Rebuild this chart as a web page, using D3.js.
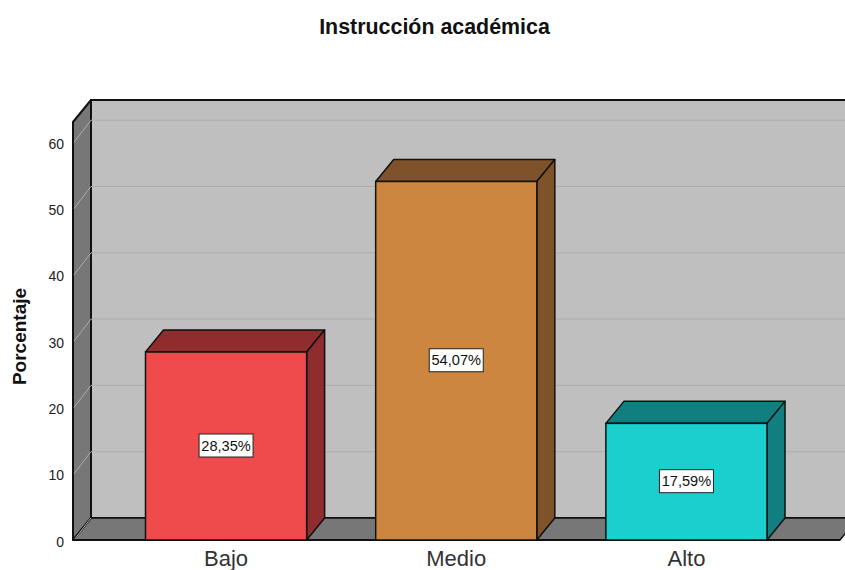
<!DOCTYPE html>
<html><head><meta charset="utf-8">
<script src="https://cdn.jsdelivr.net/npm/d3@7"></script>
<style>html,body{margin:0;padding:0;background:#fff;overflow:hidden}svg{display:block}text{font-family:"Liberation Sans",Arial,sans-serif}</style>
</head><body><svg id="c" width="845" height="570"></svg>
<script>
const categories = ["Bajo","Medio","Alto"];
const values = [28.35,54.07,17.59];
const labels = ["28,35%","54,07%","17,59%"];
const colors = ["#ef4b4d","#cc863f","#1bcfcf"];
const sideColors = ["#8f2d2e","#7f5329","#117f7f"];
const yTicks = [0,10,20,30,40,50,60];
const title = "Instrucción académica";
const yTitle = "Porcentaje";

const dx = 18, dy = -22, stroke = "#111";
const svg = d3.select("#c");
const y = d3.scaleLinear().domain([0,63.04]).range([540,122]);
const x = d3.scaleBand().domain(categories).range([145.5,767]).paddingInner(0.3).paddingOuter(0);
const left = 73, right = 840;
const y0 = y(0), yTop = y.range()[1];
const poly = (pts,fill,sw=1.5)=>svg.append("polygon").attr("points",pts.map(p=>p.join(",")).join(" ")).attr("fill",fill).attr("stroke",stroke).attr("stroke-width",sw).attr("stroke-linejoin","round");

// back wall
svg.append("rect").attr("x",left+dx).attr("y",yTop+dy).attr("width",right-left).attr("height",y0-yTop)
  .attr("fill","#bfbfbf").attr("stroke",stroke).attr("stroke-width",2);
// floor and side wall
poly([[left,y0],[left+dx,y0+dy],[right+dx,y0+dy],[right,y0]],"#777777",1.5);
poly([[left,y0],[left,yTop],[left+dx,yTop+dy],[left+dx,y0+dy]],"#777777",2);
// gridlines
const grid = svg.append("g").attr("fill","none").attr("stroke","#adadad").attr("stroke-width",1);
yTicks.forEach(t=>{
  const p = d3.path();
  p.moveTo(left+1,y(t)); p.lineTo(left+dx,y(t)+dy);
  if(t>0) p.lineTo(right+dx,y(t)+dy);
  grid.append("path").attr("d",p.toString());
});
svg.append("line").attr("x1",left).attr("x2",right).attr("y1",y0).attr("y2",y0).attr("stroke",stroke).attr("stroke-width",2);

// bars
categories.forEach((c,i)=>{
  const bx = x(c), bw = x.bandwidth(), by = y(values[i]);
  poly([[bx,by],[bx+dx,by+dy],[bx+bw+dx,by+dy],[bx+bw,by]],sideColors[i]);
  poly([[bx+bw,by],[bx+bw+dx,by+dy],[bx+bw+dx,y0+dy],[bx+bw,y0]],sideColors[i]);
  svg.append("rect").attr("x",bx).attr("y",by).attr("width",bw).attr("height",y0-by).attr("fill",colors[i]).attr("stroke",stroke).attr("stroke-width",1.5);
  const cy = (by+y0)/2, cx = bx+bw/2;
  svg.append("rect").attr("x",cx-27).attr("y",cy-12).attr("width",54).attr("height",23).attr("fill","#fff").attr("stroke","#222").attr("stroke-width",1);
  svg.append("text").attr("x",cx).attr("y",cy+4.5).attr("text-anchor","middle").attr("font-size",14.6).attr("fill","#111").text(labels[i]);
});

// axes
const yAxis = d3.axisLeft(y).tickValues(yTicks).tickSize(0).tickPadding(9);
const gy = svg.append("g").attr("transform",`translate(${left},0)`).call(yAxis);
gy.select(".domain").remove();
gy.selectAll("text").attr("font-size",14).attr("fill","#222").attr("font-family",'"Liberation Sans",Arial,sans-serif').attr("dy","0.43em");
const xAxis = d3.axisBottom(x).tickSize(0).tickPadding(10);
const gx = svg.append("g").attr("transform",`translate(0,${y0})`).call(xAxis);
gx.select(".domain").remove();
gx.selectAll("text").attr("font-size",22).attr("fill","#333").attr("font-family",'"Liberation Sans",Arial,sans-serif');

svg.append("text").attr("x",434.5).attr("y",34).attr("text-anchor","middle").attr("font-size",21.4).attr("font-weight","bold").attr("fill","#111").text(title);
svg.append("text").attr("transform","translate(26,336.5) rotate(-90)").attr("text-anchor","middle").attr("font-size",19).attr("font-weight","bold").attr("fill","#111").text(yTitle);
</script></body></html>
